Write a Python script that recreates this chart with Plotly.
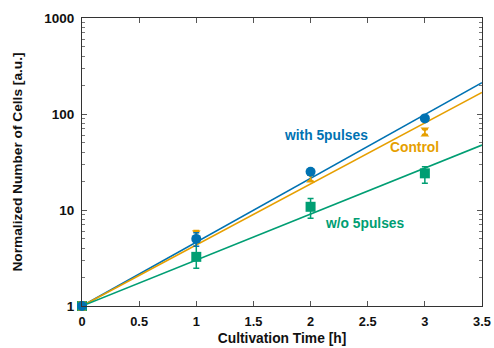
import math
import plotly.graph_objects as go

time_h = [0, 1, 2, 3]
with_pulses = [1.0, 5.0, 25.0, 90.0]
with_pulses_err = [0.0, 0.8, 1.5, 5.0]
control = [1.0, 5.5, 21.5, 65.0]
control_err = [0.0, 0.6, 1.5, 4.0]
without_pulses = [1.0, 3.25, 10.8, 24.1]
without_err_plus = [0.0, 1.4, 2.4, 4.2]
without_err_minus = [0.0, 0.77, 2.6, 5.1]
series_names = ["with 5pulses", "Control", "w/o 5pulses"]
fit_rates = [1.531, 1.464, 1.103]  # ln-growth rate per hour (fit through 1 at t=0)
fit_range = [0, 3.5]

colors = ["#0072B2", "#E69F00", "#009E73"]
font_family = "Liberation Sans, Arial, sans-serif"

fig = go.Figure()

# fit lines
for k, c in zip(fit_rates, colors):
    fig.add_trace(go.Scatter(
        x=fit_range, y=[math.exp(k * t) for t in fit_range],
        mode="lines", line=dict(color=c, width=1.6), showlegend=False, hoverinfo="skip"))

fig.add_trace(go.Scatter(
    x=time_h, y=without_pulses, mode="markers",
    marker=dict(symbol="square", size=10, color=colors[2]),
    error_y=dict(type="data", symmetric=False, array=without_err_plus,
                 arrayminus=without_err_minus, color=colors[2], thickness=1.5, width=3),
    name=series_names[2], showlegend=False, cliponaxis=False))
fig.add_trace(go.Scatter(
    x=time_h, y=control, mode="markers",
    marker=dict(symbol="hourglass", size=9, color=colors[1]),
    error_y=dict(type="data", array=control_err, color=colors[1], thickness=1.5, width=3),
    name=series_names[1], showlegend=False, cliponaxis=False))
fig.add_trace(go.Scatter(
    x=time_h, y=with_pulses, mode="markers",
    marker=dict(symbol="circle", size=10, color=colors[0]),
    error_y=dict(type="data", array=with_pulses_err, color=colors[0], thickness=1.5, width=3),
    name=series_names[0], showlegend=False, cliponaxis=False))

label_pos = [(2.135, 60.4), (2.91, 45.3), (2.48, 7.15)]
for name, (lx, ly), c in zip(series_names, label_pos, colors):
    fig.add_annotation(x=lx, y=math.log10(ly), text=name, showarrow=False,
                       font=dict(family=font_family, size=13.8, color=c, weight="bold"))

axis_common = dict(showline=True, linecolor="#333333", linewidth=1.2, mirror="allticks",
                   ticks="inside", tickcolor="#555555", ticklen=5, showgrid=False,
                   zeroline=False, automargin=False)

fig.update_layout(
    width=494, height=348,
    margin=dict(l=82, r=12, t=18, b=42),
    paper_bgcolor="white", plot_bgcolor="white",
    xaxis=dict(range=[0, 3.5], dtick=0.5, tick0=0,
               tickfont=dict(family=font_family, size=12.8, color="#111111", weight="bold"),
               ticklabelstandoff=4,
               title=dict(text="Cultivation Time [h]", standoff=4,
                          font=dict(family=font_family, size=13.8, color="#111111", weight="bold")),
               **axis_common),
    yaxis=dict(type="log", range=[0, 3], dtick=1, tickformat="d",
               tickfont=dict(family=font_family, size=13.5, color="#111111", weight="bold"),
               ticklabelstandoff=4,
               title=dict(text="Normalized Number of Cells [a.u.]", standoff=18,
                          font=dict(family=font_family, size=13.7, color="#111111", weight="bold")),
               minor=dict(ticks="inside", ticklen=3, dtick="D1", tickcolor="#777777", showgrid=False),
               **axis_common),
)

fig.write_html("out.html", config={"displayModeBar": False},
               post_script="document.body.style.margin='0';document.body.style.overflow='hidden';")
